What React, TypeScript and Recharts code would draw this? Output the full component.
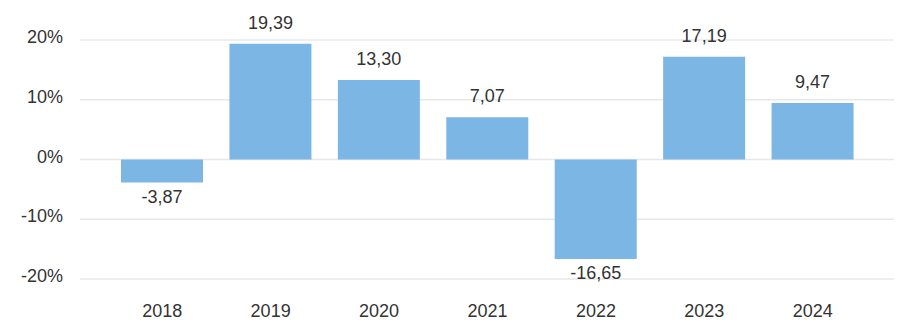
import { BarChart, Bar, XAxis, YAxis, CartesianGrid, LabelList } from "recharts";

const years = ["2018", "2019", "2020", "2021", "2022", "2023", "2024"];
const returns = [-3.87, 19.39, 13.3, 7.07, -16.65, 17.19, 9.47];
const yTicks = [-20, -10, 0, 10, 20];

const FONT = "'Liberation Sans', Arial, sans-serif";
const TEXT = "#333333";

const chartData = years.map((year, i) => ({ year, value: returns[i] }));

const fmt = (v: number) => v.toFixed(2).replace(".", ",");

function YTick(props: any) {
	const { x, y, payload } = props;
	return (
		<text x={x} y={y + 3} textAnchor="end" fontSize={18} fontFamily={FONT} fill={TEXT}>
			{`${payload.value}%`}
		</text>
	);
}

function XTick(props: any) {
	const { x, y, payload } = props;
	return (
		<text x={x} y={y + 28} textAnchor="middle" fontSize={18} fontFamily={FONT} fill={TEXT}>
			{payload.value}
		</text>
	);
}

function ValueLabel(props: any) {
	const { x, y, width, height, value } = props;
	const top = Math.min(y, y + height);
	const bottom = Math.max(y, y + height);
	const cx = x + width / 2;
	const ty = value >= 0 ? top - 15 : bottom + 20;
	return (
		<text x={cx} y={ty} textAnchor="middle" fontSize={18} fontFamily={FONT} fill={TEXT}>
			{fmt(value)}
		</text>
	);
}

export default function App() {
	return (
		<div style={{ position: "absolute", left: 0, top: 0 }}>
			<BarChart width={900} height={322} data={chartData} margin={{ top: 40, right: 6, left: 0, bottom: 0 }}>
				<CartesianGrid vertical={false} stroke="#e8e8e8" strokeWidth={1.5} />
				<XAxis
					dataKey="year"
					height={43}
					axisLine={false}
					tickLine={false}
					tickSize={0}
					tickMargin={10}
					padding={{ left: 28, right: 27 }}
					tick={<XTick />}
					interval={0}
				/>
				<YAxis
					width={80}
					domain={[-20, 20]}
					ticks={yTicks}
					axisLine={false}
					tickLine={false}
					tickSize={0}
					tickMargin={17}
					tick={<YTick />}
					interval={0}
				/>
				<Bar dataKey="value" fill="#7BB6E4" barSize={82} isAnimationActive={false}>
					<LabelList dataKey="value" content={<ValueLabel />} />
				</Bar>
			</BarChart>
		</div>
	);
}
